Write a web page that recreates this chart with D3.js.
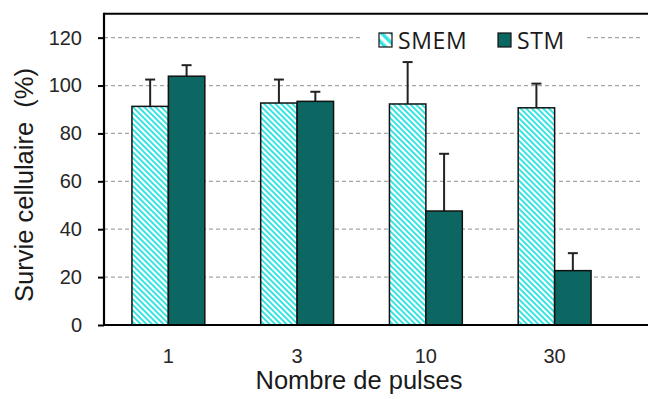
<!DOCTYPE html>
<html><head><meta charset="utf-8">
<script src="https://cdn.jsdelivr.net/npm/d3@7"></script>
<style>body{margin:0;background:#fff}svg{display:block}</style>
</head><body>
<svg id="c" width="648" height="399"></svg>
<script>
const categories = ["1", "3", "10", "30"];
const seriesNames = ["SMEM", "STM"];
const smem = [91.3, 92.7, 92.3, 90.7];
const smemErr = [11.2, 9.8, 17.5, 10.1];
const stm = [103.9, 93.4, 47.6, 22.7];
const stmErr = [4.6, 4.0, 23.9, 7.3];
const yTicks = [0, 20, 40, 60, 80, 100, 120];

(function () {
const svg = d3.select("#c");
const FONT = "'Liberation Sans', Arial, sans-serif";
const pLeft = 104, pBottom = 325, pTop = 13.7, pRight = 619;
const y = d3.scaleLinear().domain([0, 130]).range([pBottom, pTop]);
const x0 = d3.scaleBand().domain(categories).range([pLeft, pRight]).paddingInner(0.434).paddingOuter(0.217);
const x1 = d3.scaleBand().domain(seriesNames).range([0, x0.bandwidth()]);

const defs = svg.append("defs");
const pat = defs.append("pattern").attr("id", "hatch").attr("patternUnits", "userSpaceOnUse")
  .attr("width", 4).attr("height", 4).attr("patternTransform", "rotate(-45)");
pat.append("rect").attr("width", 4).attr("height", 4).attr("fill", "#fff");
pat.append("rect").attr("x", 0).attr("width", 2).attr("height", 4).attr("fill", "#38e3e3");
const pat2 = defs.append("pattern").attr("id", "hatchLeg").attr("patternUnits", "userSpaceOnUse")
  .attr("width", 7).attr("height", 7).attr("patternTransform", "rotate(-45)");
pat2.append("rect").attr("width", 7).attr("height", 7).attr("fill", "#fff");
pat2.append("rect").attr("x", 0).attr("width", 3.5).attr("height", 7).attr("fill", "#38e3e3");

svg.append("g").selectAll("line").data(yTicks.filter(d => d > 0)).join("line")
  .attr("x1", pLeft).attr("x2", 643).attr("y1", d => y(d)).attr("y2", d => y(d))
  .attr("stroke", "#a6a6a6").attr("stroke-width", 1.2).attr("stroke-dasharray", "4,3");

svg.append("line").attr("x1", pLeft).attr("x2", 648).attr("y1", pTop).attr("y2", pTop)
  .attr("stroke", "#000").attr("stroke-width", 2);

const data = categories.map((c, i) => ({c, vals: [
  {s: "SMEM", v: smem[i], e: smemErr[i]}, {s: "STM", v: stm[i], e: stmErr[i]}]}));

const g = svg.append("g").selectAll("g").data(data).join("g")
  .attr("transform", d => `translate(${x0(d.c)},0)`);
g.selectAll("line.err").data(d => d.vals).join("line").attr("class", "err")
  .attr("x1", d => x1(d.s) + x1.bandwidth() / 2).attr("x2", d => x1(d.s) + x1.bandwidth() / 2)
  .attr("y1", d => y(d.v)).attr("y2", d => y(d.v + d.e)).attr("stroke", "#222").attr("stroke-width", 2);
g.selectAll("line.cap").data(d => d.vals).join("line").attr("class", "cap")
  .attr("x1", d => x1(d.s) + x1.bandwidth() / 2 - 5).attr("x2", d => x1(d.s) + x1.bandwidth() / 2 + 5)
  .attr("y1", d => y(d.v + d.e)).attr("y2", d => y(d.v + d.e)).attr("stroke", "#222").attr("stroke-width", 2);
g.selectAll("rect").data(d => d.vals).join("rect")
  .attr("x", d => x1(d.s)).attr("width", x1.bandwidth())
  .attr("y", d => y(d.v)).attr("height", d => y(0) - y(d.v))
  .attr("fill", d => d.s === "SMEM" ? "url(#hatch)" : "#0c6662")
  .attr("stroke", "#111").attr("stroke-width", 1.5);

const yAxis = svg.append("g").attr("transform", `translate(${pLeft},0)`)
  .call(d3.axisLeft(y).tickValues(yTicks).tickSize(6).tickPadding(16));
yAxis.select(".domain").remove();
yAxis.selectAll(".tick line").attr("stroke", "#000").attr("stroke-width", 2);
yAxis.selectAll("text").attr("font-family", FONT).attr("font-size", 20).attr("fill", "#262626");
svg.append("line").attr("x1", pLeft).attr("x2", pLeft).attr("y1", pTop - 1).attr("y2", pBottom + 1)
  .attr("stroke", "#000").attr("stroke-width", 2.2);

const xAxis = svg.append("g").attr("transform", `translate(0,${pBottom})`)
  .call(d3.axisBottom(x0).tickSize(0).tickPadding(24));
xAxis.select(".domain").remove();
xAxis.selectAll("text").attr("font-family", FONT).attr("font-size", 20).attr("fill", "#262626");
svg.append("line").attr("x1", pLeft - 1).attr("x2", 648).attr("y1", pBottom).attr("y2", pBottom)
  .attr("stroke", "#000").attr("stroke-width", 2.2);

svg.append("text").attr("x", 359).attr("y", 389).attr("text-anchor", "middle")
  .attr("font-family", FONT).attr("font-size", 25.5).attr("fill", "#1a1a1a")
  .text("Nombre de pulses");
svg.append("text").attr("transform", "translate(33,185) rotate(-90)").attr("text-anchor", "middle")
  .attr("font-family", FONT).attr("font-size", 25.5).attr("fill", "#1a1a1a")
  .attr("xml:space", "preserve").text("Survie cellulaire  (%)");

const leg = svg.append("g");
leg.append("rect").attr("x", 362).attr("y", 26).attr("width", 222).attr("height", 28).attr("fill", "#fff");
const items = [{s: "SMEM", x: 379}, {s: "STM", x: 498}];
const li = leg.selectAll("g").data(items).join("g").attr("transform", d => `translate(${d.x},33)`);
li.append("rect").attr("width", 13).attr("height", 14)
  .attr("fill", d => d.s === "SMEM" ? "url(#hatchLeg)" : "#0c6662").attr("stroke", "#111").attr("stroke-width", 1.2);
li.append("text").attr("x", 19).attr("y", 15.5).attr("font-family", "'Open Sans', sans-serif").attr("font-size", 23)
  .attr("letter-spacing", 0.6).attr("fill", "#1a1a1a").text(d => d.s);
})();
</script>
</body></html>
